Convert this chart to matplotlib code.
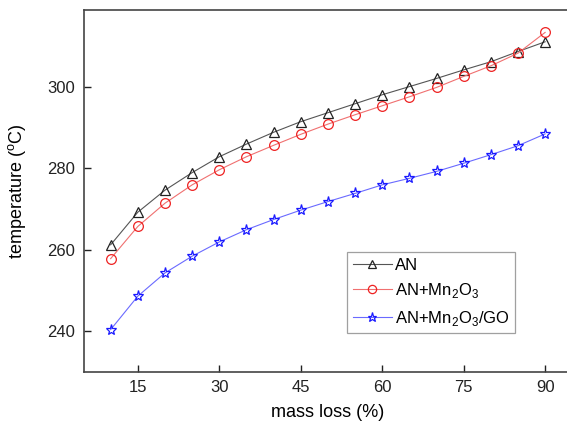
import matplotlib.pyplot as plt

plt.rcParams['font.family'] = ['Liberation Sans', 'DejaVu Sans']
plt.rcParams['mathtext.fontset'] = 'custom'
plt.rcParams['mathtext.rm'] = 'Liberation Sans'

# mass loss (%) and peak temperature (°C) for the three samples
mass_loss = [10, 15, 20, 25, 30, 35, 40, 45, 50, 55, 60, 65, 70, 75, 80, 85, 90]
t_an = [261.2, 269.2, 274.6, 278.9, 282.8, 285.9, 288.8, 291.4, 293.6, 295.8,
        298.0, 300.0, 302.0, 304.1, 306.1, 308.6, 311.0]
t_an_mn = [257.8, 265.7, 271.4, 275.9, 279.6, 282.8, 285.6, 288.3, 290.8, 293.1,
           295.3, 297.5, 299.8, 302.5, 305.1, 308.2, 313.3]
t_an_mn_go = [240.4, 248.6, 254.3, 258.4, 261.9, 264.9, 267.4, 269.7, 271.8, 273.8,
              275.9, 277.5, 279.2, 281.2, 283.3, 285.5, 288.4]

fig = plt.figure(figsize=(5.67, 4.23), dpi=100)
ax = fig.add_axes([0.1473, 0.1206, 0.862, 0.8558])

ax.plot(mass_loss, t_an, color='#555555', lw=0.8, marker='^', ms=7.5,
        mfc='none', mec='#222222', mew=0.9, label='AN')
ax.plot(mass_loss, t_an_mn, color='#f07070', lw=0.8, marker='o', ms=7,
        mfc='none', mec='#ee2222', mew=0.9, label=r'AN+Mn$_\mathrm{2}$O$_\mathrm{3}$')
ax.plot(mass_loss, t_an_mn_go, color='#6a6aff', lw=0.8, marker='*', ms=8,
        mfc='none', mec='#1a1aff', mew=0.9, label=r'AN+Mn$_\mathrm{2}$O$_\mathrm{3}$/GO')

ax.set_xlim(5, 95)
ax.set_ylim(230, 318.8)
ax.set_xticks([15, 30, 45, 60, 75, 90])
ax.set_yticks([240, 260, 280, 300])
ax.tick_params(direction='in', length=5, width=1, labelsize=12, colors='#222222', pad=6)
for s in ax.spines.values():
    s.set_color('#444444')
    s.set_linewidth(1.2)
ax.spines['right'].set_visible(False)

ax.set_xlabel('mass loss (%)', fontsize=13, labelpad=6)
ax.set_ylabel(r'temperature ($^\mathrm{o}$C)', fontsize=13, labelpad=14)

leg = ax.legend(loc='upper left', bbox_to_anchor=(0.54, 0.331), fontsize=12,
                frameon=True, fancybox=False, edgecolor='#888888',
                handlelength=2.3, handletextpad=0.2, borderpad=0.35,
                labelspacing=0.5, borderaxespad=0, markerscale=0.85)
leg.get_frame().set_linewidth(0.9)

fig.savefig('out.png', dpi=100)
